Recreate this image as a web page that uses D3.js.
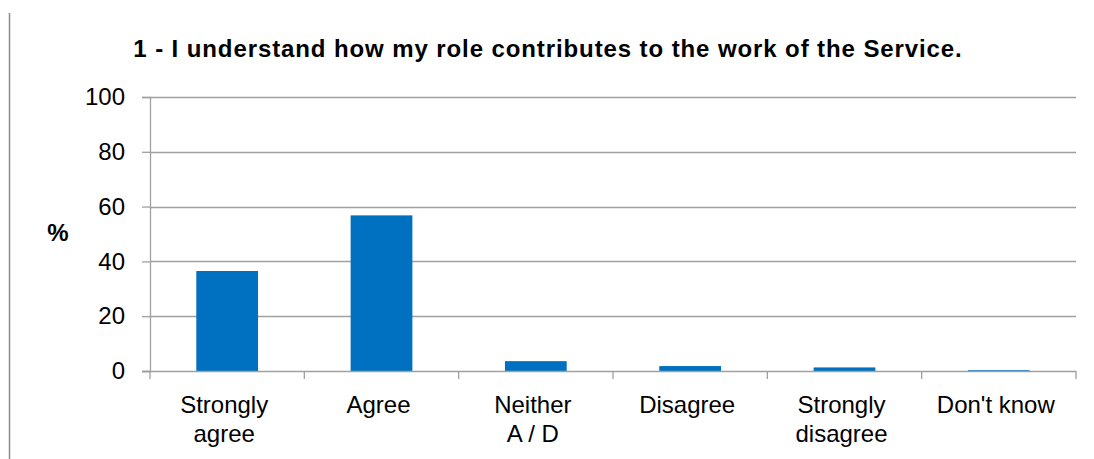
<!DOCTYPE html>
<html>
<head>
<meta charset="utf-8">
<script src="https://cdn.jsdelivr.net/npm/d3@7"></script>
<style>
  body { margin: 0; background: #fff; }
  text { font-family: "Liberation Sans", Arial, sans-serif; }
</style>
</head>
<body>
<div id="chart"></div>
<script>
// data
var categories = [["Strongly", "agree"], ["Agree"], ["Neither", "A / D"], ["Disagree"], ["Strongly", "disagree"], ["Don't know"]];
var percents = [36.5, 56.8, 3.6, 1.8, 1.3, 0.3];
var yTicks = [0, 20, 40, 60, 80, 100];

var W = 1094, H = 459;
var margin = { top: 97, right: 18, bottom: 88, left: 150 },
    width = W - margin.left - margin.right,
    height = H - margin.top - margin.bottom;

var svg = d3.select("#chart").append("svg")
    .attr("width", W)
    .attr("height", H);

// left frame line
svg.append("line")
    .attr("x1", 9.5).attr("x2", 9.5)
    .attr("y1", 13).attr("y2", H)
    .attr("stroke", "#8c8c8c").attr("stroke-width", 1.5);

svg.append("text")
    .attr("x", 548)
    .attr("y", 57)
    .attr("text-anchor", "middle")
    .style("font-size", "24px")
    .style("font-weight", "bold")
    .style("letter-spacing", "0.9px")
    .text("1 - I understand how my role contributes to the work of the Service.");

var g = svg.append("g")
    .attr("transform", "translate(" + margin.left + "," + margin.top + ")");

var x = d3.scaleBand()
    .domain(d3.range(categories.length))
    .range([0, width])
    .padding(0);

var y = d3.scaleLinear()
    .domain([0, 100])
    .range([height, 0]);

// gridlines
g.append("g")
    .selectAll("line")
    .data(yTicks.filter(function (d) { return d > 0; }))
    .enter()
    .append("line")
    .attr("x1", 0).attr("x2", width)
    .attr("y1", function (d) { return Math.round(y(d)) + 0.5; })
    .attr("y2", function (d) { return Math.round(y(d)) + 0.5; })
    .attr("stroke", "#a0a0a0").attr("stroke-width", 1.3);

// bars
var barW = x.bandwidth() * 0.4;
g.append("g")
    .selectAll("rect")
    .data(percents)
    .enter()
    .append("rect")
    .attr("x", function (d, i) { return x(i) + (x.bandwidth() - barW) / 2; })
    .attr("y", function (d) { return y(d); })
    .attr("width", barW)
    .attr("height", function (d) { return height - y(d); })
    .attr("fill", "#0070c0");

// y axis
var yAxis = g.append("g")
    .call(d3.axisLeft(y).tickValues(yTicks).tickSize(8).tickPadding(17));
yAxis.select(".domain").attr("stroke", "#a0a0a0").attr("stroke-width", 1.3);
yAxis.selectAll(".tick line").attr("stroke", "#a0a0a0").attr("stroke-width", 1.3);
yAxis.selectAll("text").style("font-size", "24px").attr("fill", "#000")
    .style("font-family", "'Liberation Sans', Arial, sans-serif");

// x axis
var xEdges = d3.range(categories.length + 1).map(function (i) { return i * x.step(); });
var xAxisG = g.append("g").attr("transform", "translate(0," + height + ")");
xAxisG.append("line")
    .attr("x1", -8).attr("x2", width)
    .attr("y1", 0.5).attr("y2", 0.5)
    .attr("stroke", "#a0a0a0").attr("stroke-width", 1.3);
xAxisG.selectAll(".xtick")
    .data(xEdges)
    .enter()
    .append("line")
    .attr("class", "xtick")
    .attr("x1", function (d) { return d; })
    .attr("x2", function (d) { return d; })
    .attr("y1", 0).attr("y2", 8)
    .attr("stroke", "#a0a0a0").attr("stroke-width", 1.3);

var labels = xAxisG.selectAll(".xlab")
    .data(categories)
    .enter()
    .append("text")
    .attr("class", "xlab")
    .attr("text-anchor", "middle")
    .attr("y", 42)
    .style("font-size", "24px");
labels.selectAll("tspan")
    .data(function (d, i) { return d.map(function (s) { return { s: s, i: i }; }); })
    .enter()
    .append("tspan")
    .attr("x", function (d) { return x(d.i) + x.bandwidth() / 2 - 3; })
    .attr("dy", function (d, j) { return j === 0 ? 0 : 29; })
    .text(function (d) { return d.s; });

// y label
svg.append("text")
    .attr("x", 58)
    .attr("y", 241)
    .attr("text-anchor", "middle")
    .style("font-size", "24px")
    .style("font-weight", "bold")
    .text("%");
</script>
</body>
</html>
